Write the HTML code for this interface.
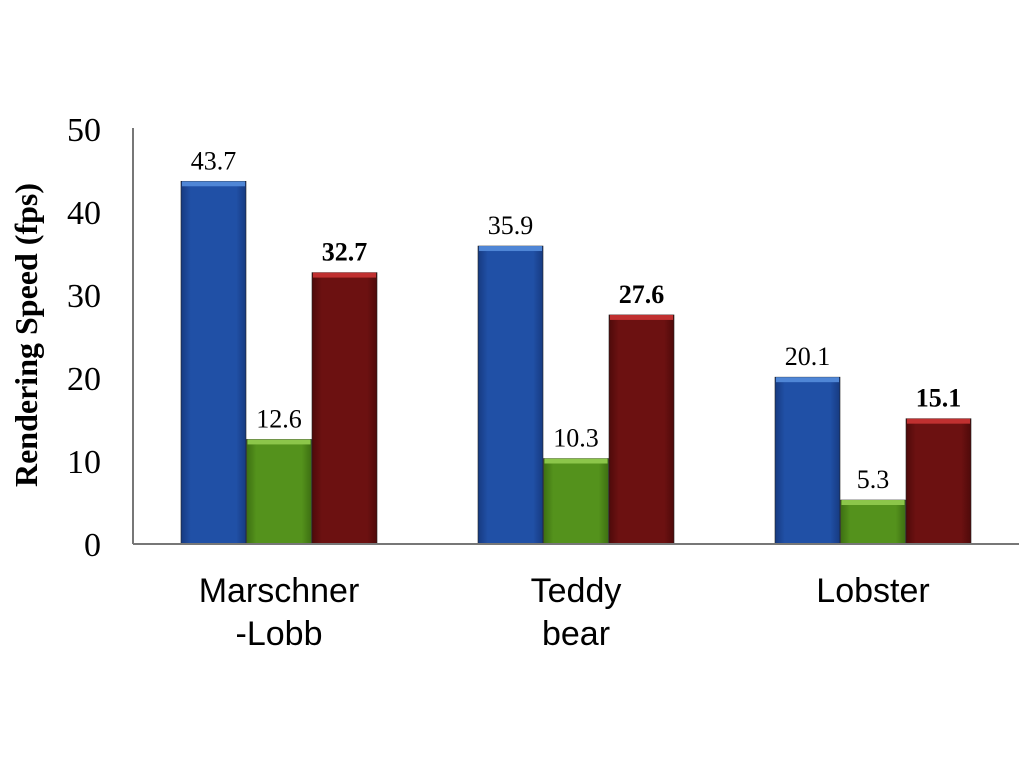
<!DOCTYPE html>
<html><head><meta charset="utf-8"><style>
body{margin:0;background:#fff;}
svg{display:block;font-family:"Liberation Serif",serif;}
</style></head><body>
<svg id="chart" width="1024" height="768">
<defs>
<linearGradient id="gb" x1="0" x2="1"><stop offset="0" stop-color="#173a80"/><stop offset="0.15" stop-color="#2050a6"/><stop offset="0.85" stop-color="#2050a6"/><stop offset="1" stop-color="#173a80"/></linearGradient>
<linearGradient id="gg" x1="0" x2="1"><stop offset="0" stop-color="#3d6f12"/><stop offset="0.15" stop-color="#54921c"/><stop offset="0.85" stop-color="#54921c"/><stop offset="1" stop-color="#3d6f12"/></linearGradient>
<linearGradient id="gr" x1="0" x2="1"><stop offset="0" stop-color="#4e0a0a"/><stop offset="0.15" stop-color="#6c1111"/><stop offset="0.85" stop-color="#6c1111"/><stop offset="1" stop-color="#4e0a0a"/></linearGradient>
</defs>
<g id="plot"></g>
</svg>
<script>
const categories=[["Marschner","-Lobb"],["Teddy","bear"],["Lobster"]];
const seriesA=[43.7,35.9,20.1];
const seriesB=[12.6,10.3,5.3];
const seriesC=[32.7,27.6,15.1];
const yTicks=[0,10,20,30,40,50];
const ns="http://www.w3.org/2000/svg";
const g=document.getElementById('plot');
const y0=544,yTop=129,yMax=50,x0=133,gw=297;
function yS(v){return y0-(v/yMax)*(y0-yTop);}
function mk(t,a,p){const e=document.createElementNS(ns,t);for(const k in a)e.setAttribute(k,a[k]);(p||g).appendChild(e);return e;}
yTicks.forEach(v=>{
 const t=mk('text',{x:101,y:yS(v)+12,'text-anchor':'end','font-size':34});t.textContent=v;
 
 
});
const yt=mk('text',{x:0,y:0,'font-size':32,'font-weight':'bold','text-anchor':'middle',transform:'translate(37,335) rotate(-90)'});
yt.textContent='Rendering Speed (fps)';


const series=[{d:seriesA,f:'url(#gb)',top:'#4f86d6',b:false,n:'blue'},{d:seriesB,f:'url(#gg)',top:'#8cc64a',b:false,n:'green'},{d:seriesC,f:'url(#gr)',top:'#c03030',b:true,n:'red'}];
categories.forEach((c,i)=>{
 series.forEach((s,j)=>{
  const v=s.d[i];const x=x0+i*gw+48+j*65.5;const yy=yS(v);
  const r=mk('rect',{x:x,y:yy,width:65,height:y0-yy,fill:s.f,stroke:'#222',"stroke-width":0.6});
  
  
  mk('rect',{x:x+1,y:yy,width:63,height:5,fill:s.top});
  const t=mk('text',{x:x+32.5,y:yy-12,'text-anchor':'middle','font-size':26,'font-weight':s.b?'bold':'normal'});
  t.textContent=v.toFixed(1);
  
  
 });
 c.forEach((line,k)=>{
  const t=mk('text',{x:x0+i*gw+146,y:602+k*43,'text-anchor':'middle','font-size':34,'font-family':'"Liberation Sans",sans-serif'});
  t.textContent=line;
  
  
 });
});
const ax=mk('line',{x1:133,y1:544,x2:1019,y2:544,stroke:'#777','stroke-width':2});


const ay=mk('line',{x1:133,y1:128,x2:133,y2:544,stroke:'#777','stroke-width':2});


</script>
</body></html>
